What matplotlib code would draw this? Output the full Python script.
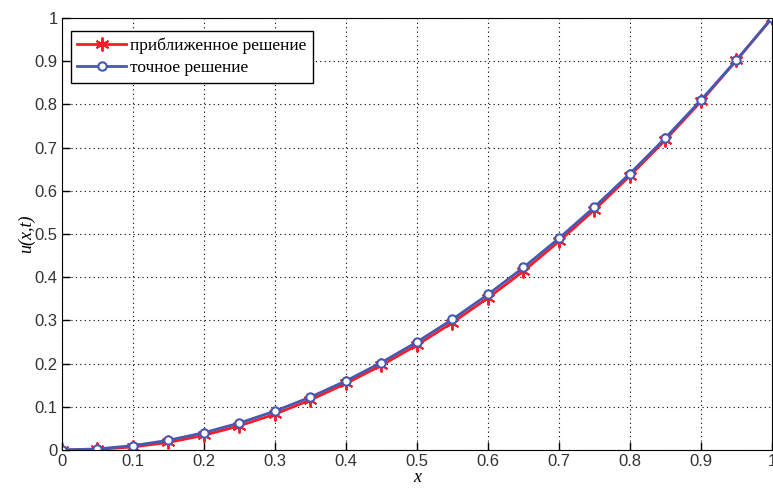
import matplotlib
matplotlib.use('Agg')
import matplotlib.pyplot as plt
import numpy as np

# grid nodes and the two solutions
x_nodes = [0.0, 0.05, 0.1, 0.15, 0.2, 0.25, 0.3, 0.35, 0.4, 0.45, 0.5,
           0.55, 0.6, 0.65, 0.7, 0.75, 0.8, 0.85, 0.9, 0.95, 1.0]
u_approx = [0.0, 0.0015, 0.007, 0.0175, 0.034, 0.056, 0.083, 0.116, 0.154, 0.196, 0.243,
            0.295, 0.352, 0.414, 0.483, 0.556, 0.635, 0.718, 0.807, 0.902, 1.0]
u_exact = [0.0, 0.0025, 0.01, 0.0225, 0.04, 0.0625, 0.09, 0.1225, 0.16, 0.2025, 0.25,
           0.3025, 0.36, 0.4225, 0.49, 0.5625, 0.64, 0.7225, 0.81, 0.9025, 1.0]
xticks = [0, 0.1, 0.2, 0.3, 0.4, 0.5, 0.6, 0.7, 0.8, 0.9, 1]
yticks = [0, 0.1, 0.2, 0.3, 0.4, 0.5, 0.6, 0.7, 0.8, 0.9, 1]
tick_labels = ['0', '0.1', '0.2', '0.3', '0.4', '0.5', '0.6', '0.7', '0.8', '0.9', '1']

fig = plt.figure(figsize=(7.73, 4.92), dpi=100)
ax = fig.add_axes([0.0802, 0.0854, 0.9185, 0.878])

# matlab-style '*' marker: six-armed asterisk
ax.plot(x_nodes, u_approx, '-', marker=(6, 2, 0), color=(1.0, 0.1, 0.15), lw=2, ms=10, mew=1.4,
        label='приближенное решение')
ax.plot(x_nodes, u_exact, '-o', color=(0.27, 0.35, 0.7), lw=2, ms=6, mew=1.5,
        mfc='white', label='точное решение')

ax.set_xlim(0, 1)
ax.set_ylim(0, 1)
ax.set_xticks(xticks)
ax.set_yticks(yticks)
ax.set_xticklabels(tick_labels, fontsize=12, family='Liberation Sans', color='#333333')
ax.set_yticklabels(tick_labels, fontsize=12, family='Liberation Sans', color='#333333')
ax.tick_params(direction='in', length=6, width=1, pad=3)
ax.grid(True, linestyle=(0, (1, 3)), color='black', lw=0.8)

ax.set_xlabel('x', fontsize=13, family='Liberation Serif', style='italic', labelpad=0)
ax.set_ylabel('u(x,t)', fontsize=13, family='Liberation Serif', style='italic', labelpad=0)

leg = ax.legend(loc='upper left', bbox_to_anchor=(0.012, 0.97), fancybox=False,
                framealpha=1, edgecolor='black', borderpad=0.4, handlelength=2.8,
                handletextpad=0.2, labelspacing=0.3, borderaxespad=0,
                prop={'family': 'Liberation Serif', 'size': 12.5})
leg.get_frame().set_linewidth(1)

fig.savefig('out.png', dpi=100)
